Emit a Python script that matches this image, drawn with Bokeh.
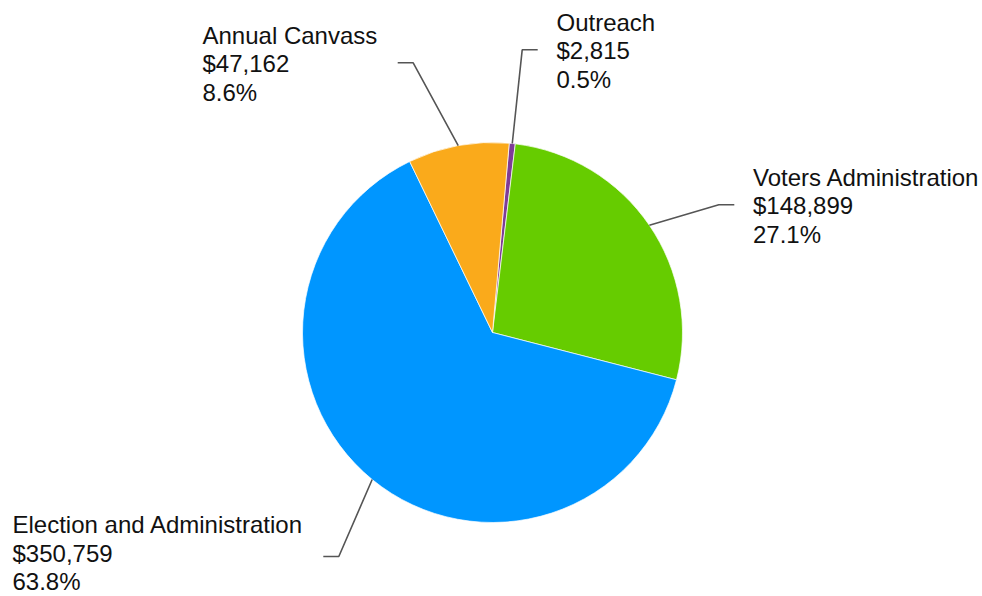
import math
from bokeh.plotting import figure
from bokeh.models import ColumnDataSource, Range1d
from bokeh.core.properties import value
from bokeh.embed import file_html
from bokeh.resources import INLINE

# ---- data ----
categories = ["Outreach", "Voters Administration", "Election and Administration", "Annual Canvass"]
amounts = [2815, 148899, 350759, 47162]
amount_labels = ["$2,815", "$148,899", "$350,759", "$47,162"]
percent_labels = ["0.5%", "27.1%", "63.8%", "8.6%"]
colors = ["#7E3C97", "#66CC00", "#0096FF", "#FAAA1B"]

# ---- layout (screen px of the picture) ----
W, H = 982, 596
def sy(y):
    return H - y

cx, cy, R = 492, sy(332), 190
start_offset = 5.05  # degrees clockwise from 12 o'clock

# label knee positions (screen coords) and side (+1 right, -1 left)
knees = [(521.7, 49.3, 1), (718.3, 204.3, 1), (338.3, 556.0, -1), (412.7, 62.3, -1)]
text_x = [556.0, 752.5, 12.0, 202.0]
text_dy = [1.0, 1.0, -3.5, 1.0]
hleg = 15.5
line_gap = 28.2

total = float(sum(amounts))
starts, ends, mids = [], [], []
acc = start_offset
for a in amounts:
    span = a / total * 360.0
    s, e = acc, acc + span
    starts.append(math.radians(90 - s))
    ends.append(math.radians(90 - e))
    mids.append((s + e) / 2.0)
    acc = e

src = ColumnDataSource(dict(
    x=[cx] * len(amounts), y=[cy] * len(amounts),
    start=starts, end=ends, color=colors, cat=categories,
))

p = figure(width=W, height=H, x_range=Range1d(0, W), y_range=Range1d(0, H),
           output_backend="svg", toolbar_location=None, min_border=0,
           x_axis_location=None, y_axis_location=None)
p.grid.visible = False
p.outline_line_color = None
p.background_fill_color = "white"

p.wedge(x="x", y="y", radius=R, start_angle="start", end_angle="end", direction="clock",
        fill_color="color", line_color="white", line_width=0.7, source=src)

# leader lines
xs, ys = [], []
for m, (kx, ky, side) in zip(mids, knees):
    px = cx + R * math.sin(math.radians(m))
    py = cy + R * math.cos(math.radians(m))
    xs.append([px, kx, kx + side * hleg])
    ys.append([py, sy(ky), sy(ky)])
p.multi_line(xs=xs, ys=ys, line_color="#555555", line_width=1.6)

# labels
tx, ty, tt = [], [], []
for i, (kx, ky, side) in enumerate(knees):
    base = ky + text_dy[i]
    lines = [categories[i], amount_labels[i], percent_labels[i]]
    for j, t in enumerate(lines):
        tx.append(text_x[i])
        ty.append(sy(base + (j - 1) * line_gap))
        tt.append(t)
p.text(x=tx, y=ty, text=tt, text_font=value("Liberation Sans"), text_font_size="24px",
       text_align="left", text_baseline="alphabetic", text_color="#111111")

open("out.html", "w").write(file_html(p, INLINE))
